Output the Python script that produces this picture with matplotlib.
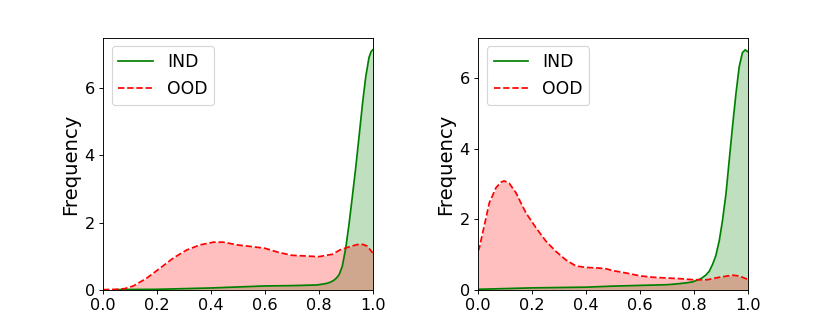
import matplotlib
matplotlib.use("Agg")
import matplotlib.pyplot as plt

# Left panel
left_ind_x = [0.05, 0.1, 0.2, 0.3, 0.4, 0.5, 0.6, 0.7, 0.75, 0.794, 0.81, 0.832, 0.845, 0.856,
              0.866, 0.875, 0.887, 0.9, 0.912, 0.924, 0.937, 0.949, 0.962, 0.974, 0.986, 0.994, 1.0]
left_ind_y = [0.01, 0.015, 0.02, 0.04, 0.06, 0.09, 0.12, 0.13, 0.14, 0.15, 0.17, 0.2, 0.24, 0.29,
              0.36, 0.45, 0.7, 1.25, 1.95, 2.75, 3.64, 4.54, 5.53, 6.33, 6.9, 7.08, 7.13]
left_ood_x = [0.0, 0.05, 0.08, 0.113, 0.162, 0.212, 0.261, 0.311, 0.36, 0.41, 0.447, 0.497, 0.55,
              0.6, 0.65, 0.7, 0.75, 0.8, 0.85, 0.881, 0.92, 0.949, 0.965, 0.98, 0.99, 1.0]
left_ood_y = [0.01, 0.02, 0.04, 0.12, 0.35, 0.65, 0.95, 1.19, 1.34, 1.42, 1.42, 1.34, 1.29,
              1.24, 1.12, 1.03, 1.01, 0.99, 1.06, 1.2, 1.3, 1.36, 1.35, 1.3, 1.2, 1.1]

# Right panel
right_ind_x = [0.0, 0.1, 0.2, 0.3, 0.4, 0.5, 0.6, 0.7, 0.733, 0.77, 0.795, 0.826, 0.844, 0.857,
               0.869, 0.881, 0.894, 0.906, 0.919, 0.931, 0.943, 0.956, 0.968, 0.98, 0.99, 1.0]
right_ind_y = [0.02, 0.04, 0.06, 0.07, 0.08, 0.11, 0.13, 0.15, 0.17, 0.2, 0.23, 0.32, 0.42, 0.53,
               0.72, 0.96, 1.39, 1.96, 2.72, 3.67, 4.61, 5.56, 6.32, 6.72, 6.8, 6.75]
right_ood_x = [0.0, 0.005, 0.017, 0.03, 0.042, 0.067, 0.085, 0.097, 0.116, 0.141, 0.16, 0.178,
               0.215, 0.252, 0.289, 0.326, 0.363, 0.4, 0.449, 0.475, 0.499, 0.55, 0.6, 0.65, 0.7,
               0.75, 0.8, 0.85, 0.894, 0.943, 0.965, 0.98, 1.0]
right_ood_y = [1.1, 1.19, 1.61, 2.05, 2.47, 2.9, 3.05, 3.09, 3.02, 2.75, 2.45, 2.18,
               1.76, 1.38, 1.09, 0.85, 0.68, 0.64, 0.62, 0.6, 0.55, 0.48, 0.4, 0.36, 0.34,
               0.32, 0.29, 0.29, 0.36, 0.42, 0.4, 0.36, 0.3]

x_ticks = [0.0, 0.2, 0.4, 0.6, 0.8, 1.0]
y_ticks = [0, 2, 4, 6]
labels = ["IND", "OOD"]

fig, axes = plt.subplots(1, 2, figsize=(10, 4), dpi=83)
fig.subplots_adjust(left=0.124, right=0.901, top=0.886, bottom=0.1265, wspace=0.39)

panels = [
    (left_ind_x, left_ind_y, left_ood_x, left_ood_y),
    (right_ind_x, right_ind_y, right_ood_x, right_ood_y),
]
for ax, (ix, iy, ox, oy) in zip(axes, panels):
    ax.plot(ix, iy, color="green", lw=1.5, label=labels[0])
    ax.fill_between(ix, 0, iy, color="green", alpha=0.25, lw=0)
    ax.plot(ox, oy, color="red", lw=1.5, ls="--", label=labels[1])
    ax.fill_between(ox, 0, oy, color="red", alpha=0.25, lw=0)
    ax.set_xlim(0, 1)
    ax.set_ylim(0, max(max(iy), max(oy)) * 1.05)
    ax.set_xticks(x_ticks)
    ax.set_yticks(y_ticks)
    ax.tick_params(labelsize=14)
    ax.set_ylabel("Frequency", fontsize=17)
    ax.legend(loc="upper left", fontsize=15)

fig.savefig("out.png", dpi=83)
